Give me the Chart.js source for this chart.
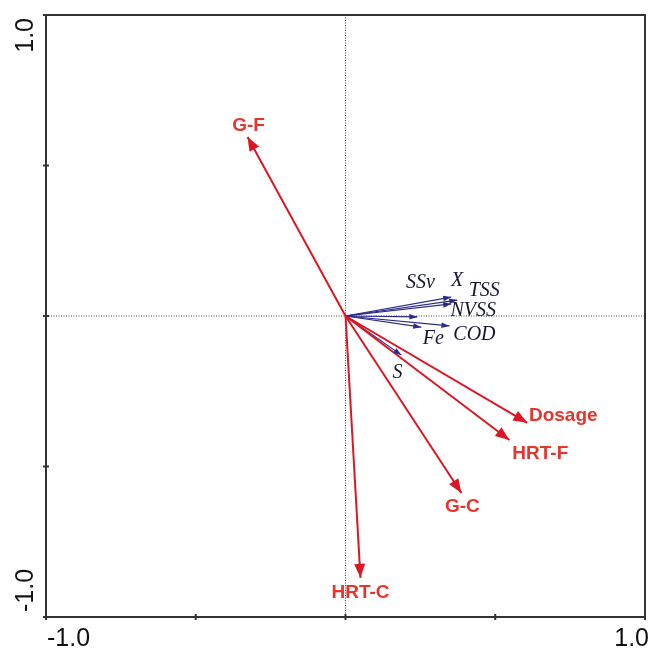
<!DOCTYPE html>
<html>
<head>
<meta charset="utf-8">
<script src="https://cdn.jsdelivr.net/npm/chart.js@4.4.1/dist/chart.umd.min.js"></script>
<style>
  html, body { margin: 0; padding: 0; background: #fff; }
  #wrap { width: 648px; height: 649px; position: relative; }
</style>
</head>
<body>
<div id="wrap"><canvas id="c" width="648" height="649"></canvas></div>
<script>
// Treatment factors (red) – biplot arrow end points
const factorNames = ['G-F', 'Dosage', 'HRT-F', 'G-C', 'HRT-C'];
const factorX = [-0.327, 0.607, 0.547, 0.387, 0.050];
const factorY = [0.595, -0.355, -0.412, -0.588, -0.870];
// label anchor offsets (px) for each factor label
const factorLabelDx = [1, 36, 31, 1, 0];
const factorLabelDy = [-11, -7, 14, 14, 15];

// Response variables (blue)
const respNames = ['X', 'TSS', 'NVSS', 'SSv', 'Fe', 'COD', 'S'];
const respX = [0.353, 0.373, 0.353, 0.240, 0.253, 0.347, 0.187];
const respY = [0.063, 0.053, 0.040, -0.003, -0.037, -0.033, -0.130];
// label positions given in pixel offsets from each tip
const respLabelDx = [6, 27, 22, 3, 12, 25, -4];
const respLabelDy = [-16, -9, 7, -34, 12, 9, 18];

const axisTicks = [-1, -0.5, 0, 0.5, 1];
const axisLabels = ['-1.0', '1.0'];

const RED = '#dc1622';
const RED_TXT = '#e8342c';
const BLUE = '#2a2a8c';
const BLUE_TXT = '#161630';

const datasets = [];
factorNames.forEach((n, i) => {
  datasets.push({
    label: n,
    data: [{x: 0, y: 0}, {x: factorX[i], y: factorY[i]}],
    borderColor: RED, borderWidth: 2, pointRadius: 0, showLine: true
  });
});
respNames.forEach((n, i) => {
  datasets.push({
    label: n,
    data: [{x: 0, y: 0}, {x: respX[i], y: respY[i]}],
    borderColor: BLUE, borderWidth: 1.2, pointRadius: 0, showLine: true
  });
});

function arrowHead(ctx, x0, y0, x1, y1, len, half, color) {
  const a = Math.atan2(y1 - y0, x1 - x0);
  ctx.save();
  ctx.fillStyle = color;
  ctx.beginPath();
  ctx.moveTo(x1, y1);
  ctx.lineTo(x1 - len * Math.cos(a) + half * Math.sin(a), y1 - len * Math.sin(a) - half * Math.cos(a));
  ctx.lineTo(x1 - len * Math.cos(a) - half * Math.sin(a), y1 - len * Math.sin(a) + half * Math.cos(a));
  ctx.closePath();
  ctx.fill();
  ctx.restore();
}

const biplotPlugin = {
  id: 'biplot',
  beforeDatasetsDraw(chart) {
    const {ctx, chartArea: a, scales: {x, y}} = chart;
    const x0 = x.getPixelForValue(0), y0 = y.getPixelForValue(0);
    ctx.save();
    ctx.strokeStyle = '#444';
    ctx.lineWidth = 1;
    ctx.setLineDash([1, 1.5]);
    ctx.beginPath();
    ctx.moveTo(x0, a.top); ctx.lineTo(x0, a.bottom);
    ctx.moveTo(a.left, y0); ctx.lineTo(a.right, y0);
    ctx.stroke();
    ctx.restore();
  },
  afterDatasetsDraw(chart) {
    const {ctx, chartArea: a, scales: {x, y}} = chart;
    const ox = x.getPixelForValue(0), oy = y.getPixelForValue(0);
    // arrowheads
    factorNames.forEach((n, i) => {
      arrowHead(ctx, ox, oy, x.getPixelForValue(factorX[i]), y.getPixelForValue(factorY[i]), 14, 5.5, RED);
    });
    respNames.forEach((n, i) => {
      arrowHead(ctx, ox, oy, x.getPixelForValue(respX[i]), y.getPixelForValue(respY[i]), 8, 2.8, BLUE);
    });
    // labels
    ctx.save();
    ctx.textAlign = 'center';
    ctx.textBaseline = 'middle';
    ctx.font = 'bold 19px "Liberation Sans", Arial, sans-serif';
    ctx.fillStyle = RED_TXT;
    factorNames.forEach((n, i) => {
      ctx.fillText(n, x.getPixelForValue(factorX[i]) + factorLabelDx[i], y.getPixelForValue(factorY[i]) + factorLabelDy[i]);
    });
    ctx.font = 'italic 20px "Liberation Serif", "Times New Roman", serif';
    ctx.fillStyle = BLUE_TXT;
    respNames.forEach((n, i) => {
      ctx.fillText(n, x.getPixelForValue(respX[i]) + respLabelDx[i], y.getPixelForValue(respY[i]) + respLabelDy[i]);
    });
    ctx.restore();

    // frame
    ctx.save();
    ctx.strokeStyle = '#333';
    ctx.lineWidth = 2;
    ctx.strokeRect(a.left, a.top, a.right - a.left, a.bottom - a.top);
    // tick marks crossing the left and bottom axes
    ctx.beginPath();
    axisTicks.forEach(t => {
      const px = x.getPixelForValue(t);
      ctx.moveTo(px, a.bottom - 3); ctx.lineTo(px, a.bottom + 3);
      const py = y.getPixelForValue(t);
      ctx.moveTo(a.left - 3, py); ctx.lineTo(a.left + 3, py);
    });
    ctx.stroke();

    // axis end labels
    ctx.fillStyle = '#111';
    ctx.font = '25px "Liberation Sans", Arial, sans-serif';
    ctx.textBaseline = 'alphabetic';
    ctx.textAlign = 'left';
    ctx.fillText(axisLabels[0], x.getPixelForValue(-1) + 1, a.bottom + 29);
    ctx.textAlign = 'right';
    ctx.fillText(axisLabels[1], x.getPixelForValue(1) + 4, a.bottom + 29);
    // rotated y labels
    ctx.save();
    ctx.translate(33, y.getPixelForValue(1) + 3);
    ctx.rotate(-Math.PI / 2);
    ctx.textAlign = 'right';
    ctx.fillText(axisLabels[1], 0, 0);
    ctx.restore();
    ctx.save();
    ctx.translate(33, y.getPixelForValue(-1) - 5);
    ctx.rotate(-Math.PI / 2);
    ctx.textAlign = 'left';
    ctx.fillText(axisLabels[0], 0, 0);
    ctx.restore();
    ctx.restore();
  }
};

new Chart(document.getElementById('c'), {
  type: 'scatter',
  data: { datasets },
  options: {
    responsive: false,
    animation: false,
    layout: { padding: { left: 46, right: 3, top: 15, bottom: 32 } },
    plugins: { legend: { display: false }, tooltip: { enabled: false } },
    scales: {
      x: { type: 'linear', min: -1, max: 1, display: false },
      y: { type: 'linear', min: -1, max: 1, display: false }
    }
  },
  plugins: [biplotPlugin]
});
</script>
</body>
</html>
